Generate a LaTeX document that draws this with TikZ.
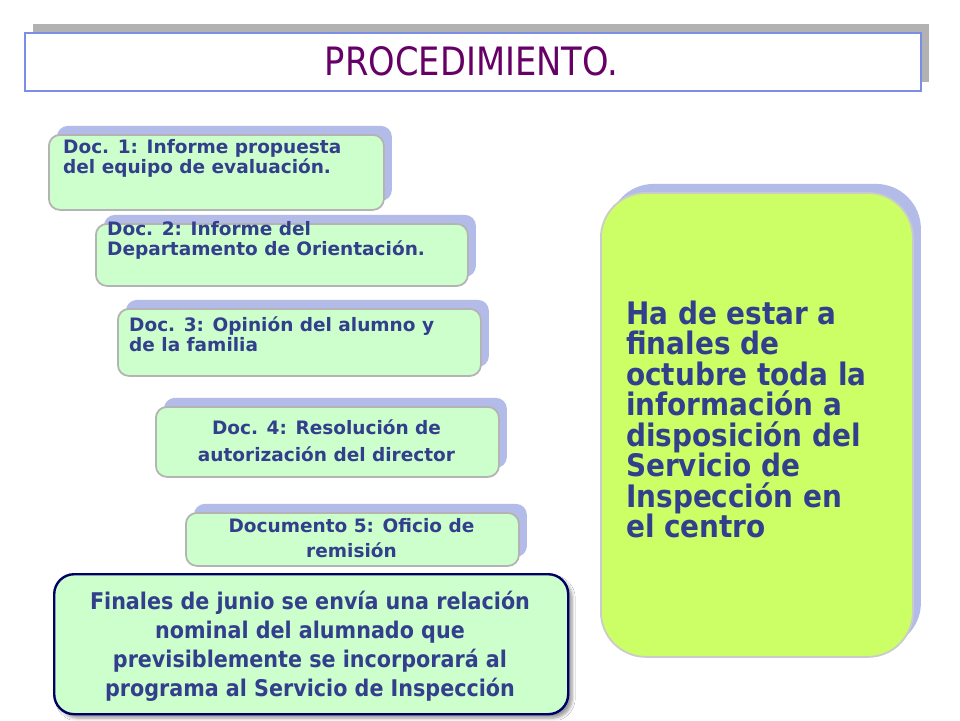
\documentclass[tikz,border=0pt]{standalone}
\usepackage{fontspec}
\setmainfont{DejaVu Sans Condensed}
\newfontfamily\widefont{DejaVu Sans}
\usepackage{graphicx}
\usetikzlibrary{shadows,shadows.blur}
\definecolor{txtblue}{HTML}{333E8C}
\definecolor{docgreen}{HTML}{CCFFCC}
\definecolor{limegreen}{HTML}{CCFF66}
\definecolor{lavender}{HTML}{B3BBE8}
\definecolor{greyborder}{HTML}{B4B4B4}
\definecolor{titleblue}{HTML}{7A8EE6}
\definecolor{titlepurple}{HTML}{660066}
\definecolor{titleshadow}{HTML}{B2B2B2}
\definecolor{navy}{HTML}{000066}
\newcommand{\ctrlines}[1]{\vtop{\halign{\hfil##\hfil\cr#1\crcr}}}
\newcommand{\lftlines}[1]{\vtop{\halign{##\hfil\cr#1\crcr}}}
\tikzset{
  box/.style={anchor=north west, inner sep=0pt},
  docbox/.style={box, rounded corners=11pt, fill=docgreen, draw=greyborder, line width=1.8pt,
    copy shadow={shadow xshift=8pt, shadow yshift=9pt, fill=lavender, draw=none}},
  doctext/.style={inner sep=0pt, text=txtblue, font=\widefont\bfseries\fontsize{18.5}{20}\selectfont},
  bigtext/.style={inner sep=0pt, text=txtblue, font=\bfseries\fontsize{31}{30.5}\selectfont},
  midtext/.style={inner sep=0pt, text=txtblue, font=\bfseries\fontsize{23}{29}\selectfont},
}
\begin{document}
\begin{tikzpicture}[x=1pt,y=-1pt]
\useasboundingbox[fill=white] (0,0) rectangle (960,720);
% title
\node[box, minimum width=896pt, minimum height=58pt, fill=white, draw=titleblue, line width=2.2pt,
  copy shadow={shadow xshift=8pt, shadow yshift=9pt, fill=titleshadow, draw=none}] (titlebox) at (24,32) {};
\node[inner sep=0pt, anchor=base, text=titlepurple] (title) at (471.5,75)
  {\resizebox{293pt}{29pt}{\fontsize{36}{36}\selectfont PROCEDIMIENTO.}};
% doc boxes
\node[docbox, minimum width=335pt, minimum height=75pt] (d1) at (48,134) {};
\node[doctext, anchor=base west] (t1) at (63,153) {\lftlines{Doc. 1: Informe propuesta\cr del equipo de evaluación.}};
\node[docbox, minimum width=372pt, minimum height=62pt] (d2) at (95,223) {};
\node[doctext, anchor=base west] (t2) at (107,235) {\lftlines{Doc. 2: Informe del\cr Departamento de Orientación.}};
\node[docbox, minimum width=363pt, minimum height=67pt] (d3) at (117,308) {};
\node[doctext, anchor=base west] (t3) at (129,331) {\lftlines{Doc. 3: Opinión del alumno y\cr de la familia}};
\node[docbox, minimum width=343pt, minimum height=70pt] (d4) at (155,406) {};
\node[doctext, anchor=base, font=\widefont\bfseries\fontsize{18.5}{27}\selectfont] (t4) at (326.5,434) {\ctrlines{Doc. 4: Resolución de\cr autorización del director}};
\node[docbox, minimum width=333pt, minimum height=53pt] (d5) at (185,512) {};
\node[doctext, anchor=base, font=\widefont\bfseries\fontsize{18.5}{25.5}\selectfont] (t5) at (351.5,532) {\ctrlines{Documento 5: Oficio de\cr remisión}};
% right box
\node[box, minimum width=312pt, minimum height=464pt, rounded corners=45pt, fill=limegreen,
  draw=greyborder!70, line width=1.8pt,
  copy shadow={shadow xshift=8pt, shadow yshift=9pt, fill=lavender, draw=none}] (rb) at (600,192) {};
\node[bigtext, anchor=base west] (rt) at (626,324) {\lftlines{Ha de estar a\cr finales de\cr octubre toda la\cr información a\cr disposición del\cr Servicio de\cr Inspección en\cr el centro}};
% bottom box
\node[box, minimum width=514pt, minimum height=140pt, rounded corners=20pt, fill=docgreen,
  draw=navy, line width=2.4pt,
  blur shadow={shadow xshift=4pt, shadow yshift=-4pt, shadow blur steps=6, shadow blur radius=3pt}] (bb) at (53,573) {};
\node[midtext, anchor=base] (bt) at (310,609) {\ctrlines{Finales de junio se envía una relación\cr nominal del alumnado que\cr previsiblemente se incorporará al\cr programa al Servicio de Inspección}};
\end{tikzpicture}
\end{document}
